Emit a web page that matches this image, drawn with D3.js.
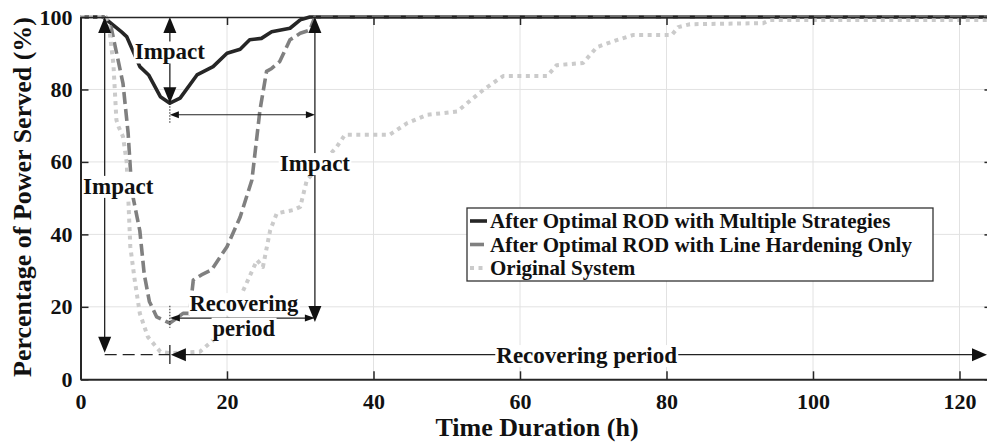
<!DOCTYPE html>
<html><head><meta charset="utf-8">
<script src="https://cdn.jsdelivr.net/npm/d3@7"></script>
<style>
body{margin:0;background:#fff}
svg{display:block}
text{font-family:"Liberation Serif","Times New Roman",serif;font-weight:bold;fill:#111}
</style>
</head><body>
<svg id="c" width="987" height="442"></svg>
<script>
// ---------- data ----------
const xTicks = [0, 20, 40, 60, 80, 100, 120];
const yTicks = [0, 20, 40, 60, 80, 100];

const seriesNames = [
  "After Optimal ROD with Multiple Strategies",
  "After Optimal ROD with Line Hardening Only",
  "Original System"
];

const multiT = [0, 3.1, 5.6, 6.3, 8.1, 9.3, 10.9, 12.2, 13.6, 15.9, 18.1, 20, 21.8, 23.1, 24.7, 26.1, 28.6, 30, 31.3, 124.5];
const multiV = [100, 100, 95.9, 94.6, 86.3, 84, 78, 76.2, 77.6, 84, 86.3, 90, 91.1, 93.7, 94.1, 95.9, 96.9, 99.2, 100, 100];

const hardT = [0, 3.2, 4.2, 5.8, 6.5, 7.0, 8.1, 8.7, 9.4, 10.4, 12.2, 14, 14.9, 15.4, 16.5, 17.9, 20, 21.8, 23.4, 24.5, 25.4, 26.1, 27.2, 28.6, 30, 31.3, 32, 124.5];
const hardV = [100, 100, 97, 81.7, 68, 52, 41, 29, 21.5, 17.2, 15.5, 18.2, 18.2, 27.4, 28.8, 30.2, 36.6, 44.8, 55, 74.3, 85, 85.8, 87.7, 93.7, 95.5, 96.4, 100, 100];

const origT = [0, 3.5, 4, 4.5, 4.9, 5.2, 5.8, 6.3, 6.5, 6.8, 7.4, 8.1, 9.2, 10.9, 12.2, 16.3, 18.1, 20, 21.8, 24.1, 24.9, 25.9, 26.8, 29, 30, 30.9, 35, 36.1, 42.2, 44.6, 47.3, 51.4, 55, 57.7, 63.7, 65, 68.6, 70.5, 73.2, 75.4, 80.7, 81.6, 83.2, 93.2, 94.1, 124.5];
const origV = [100, 100, 95.6, 86.8, 71.6, 69.7, 67, 60, 51.3, 36.6, 27.4, 18.2, 11.7, 7.6, 7.2, 7.6, 10.8, 16.3, 22.7, 32.9, 31, 41.2, 45.8, 46.7, 47.6, 55, 64.2, 67.5, 67.5, 70.7, 73, 73.9, 79.9, 83.7, 83.7, 86.7, 87.3, 91.7, 93.6, 95, 95, 97.2, 98, 98.3, 99.2, 99.2];

// ---------- annotation config (data coordinates) ----------
const impactArrows = [
  {x: 12.2, yTop: 100, yBot: 76.2},
  {x: 32.0, yTop: 100, yBot: 15.8},
  {x: 3.3,  yTop: 100, yBot: 7.3}
];
const labels = [
  {t: "Impact", x: 12.2, y: 90.5, s: 23},
  {t: "Impact", x: 32.0, y: 59.7, s: 23},
  {t: "Impact", x: 5.15, y: 53.4, s: 23},
  {t: "Recovering", x: 22.3, y: 21.0, s: 22.5},
  {t: "period", x: 22.3, y: 14.2, s: 22.5},
  {t: "Recovering period", x: 69.1, y: 6.7, s: 23}
];

// ---------- scales ----------
const svg = d3.select("#c");
const X0 = 80.5, PX = 7.325;
const xMax = 124.5;
const x = d3.scaleLinear().domain([0, xMax]).range([X0, X0 + xMax * PX]);
const y = d3.scaleLinear().domain([0, 100]).range([379.3, 17]);

// ---------- grid ----------
const grid = svg.append("g").attr("stroke", "#e2e2e2").attr("stroke-width", 1);
grid.selectAll("line.gx").data(xTicks.filter(d => d > 0)).join("line")
  .attr("x1", d => x(d)).attr("x2", d => x(d)).attr("y1", y(0)).attr("y2", y(100));
grid.selectAll("line.gy").data(yTicks.filter(d => d > 0 && d < 100)).join("line")
  .attr("class", "gy")
  .attr("x1", x(0)).attr("x2", x(xMax)).attr("y1", d => y(d)).attr("y2", d => y(d));

// ---------- series ----------
const line = d3.line().x(d => x(d[0])).y(d => y(d[1]));
const zip = (a, b) => a.map((t, i) => [t, b[i]]);
const curves = svg.append("g").attr("fill", "none").attr("stroke-linejoin", "round");
curves.append("path").datum(zip(multiT, multiV)).attr("d", line)
  .attr("stroke", "#262626").attr("stroke-width", 3.6);
curves.append("path").datum(zip(hardT, hardV)).attr("d", line)
  .attr("stroke", "#808080").attr("stroke-width", 3.6).attr("stroke-dasharray", "12,5");
curves.append("path").datum(zip(origT, origV)).attr("d", line)
  .attr("stroke", "#cbcbcb").attr("stroke-width", 4).attr("stroke-dasharray", "4,4.5");

// ---------- annotations ----------
const ann = svg.append("g");
function head(tx, ty, dx, dy, len, wid) {
  const bx = tx - dx * len, by = ty - dy * len, nx = -dy, ny = dx;
  return [[tx, ty], [bx + nx * wid / 2, by + ny * wid / 2], [bx - nx * wid / 2, by - ny * wid / 2]];
}
function drawHead(pts) {
  ann.append("polygon").attr("points", pts.map(p => p.join(",")).join(" ")).attr("fill", "#111");
}
function seg(x1, y1, x2, y2, w, dash) {
  const l = ann.append("line").attr("x1", x1).attr("y1", y1).attr("x2", x2).attr("y2", y2)
    .attr("stroke", "#222").attr("stroke-width", w);
  if (dash) l.attr("stroke-dasharray", dash);
}
impactArrows.forEach(a => {
  const px = x(a.x), pt = y(a.yTop), pb = y(a.yBot);
  seg(px, pt + 8, px, pb - 8, 1.3);
  drawHead(head(px, pt, 0, -1, 16, 13));
  drawHead(head(px, pb, 0, 1, 16, 13));
});
{
  const yy = y(73), xa = x(12.2), xb = x(32.0);
  seg(xa + 4, yy, xb - 4, yy, 1.1);
  drawHead(head(xa, yy, -1, 0, 9, 7));
  drawHead(head(xb, yy, 1, 0, 9, 7));
  seg(xa, y(76.2), xa, y(70.6), 1, "1.5,1.5");
}
{
  const yy = y(16.9), xa = x(12.2), xb = x(32.0);
  seg(xa + 4, yy, xb - 4, yy, 1.3);
  drawHead(head(xa, yy, -1, 0, 10, 7));
  drawHead(head(xb, yy, 1, 0, 10, 7));
  seg(xa, y(20.3), xa, y(14.2), 1, "1.5,1.5");
}
{
  const yy = y(6.8), xa = x(12.2), xe = 987;
  seg(x(3.3), yy, xa, yy, 1.1, "12,6");
  seg(xa, y(9.5), xa, y(4.2), 1.3);
  seg(xa + 8, yy, xe - 8, yy, 1.3);
  drawHead(head(xa + 1, yy, -1, 0, 15, 13));
  drawHead(head(xe, yy, 1, 0, 15, 13));
}
labels.forEach(l => {
  const g = ann.append("g");
  const t = g.append("text").attr("x", x(l.x)).attr("y", y(l.y)).attr("dy", "0.35em")
    .attr("text-anchor", "middle").attr("font-size", l.s).text(l.t);
  const b = t.node().getBBox();
  g.insert("rect", "text").attr("x", b.x - 1).attr("y", b.y + 2).attr("width", b.width + 2)
    .attr("height", b.height - 3).attr("fill", "#fff");
});

// ---------- axes ----------
function styleAxis(g) {
  g.attr("font-size", 22).attr("color", "#262626");
  g.select(".domain").attr("stroke-width", 2);
  g.selectAll(".tick line").attr("stroke-width", 1.5);
}
svg.append("g").attr("transform", `translate(0,${y(0)})`)
  .call(d3.axisBottom(x).tickValues(xTicks).tickSize(-8).tickSizeOuter(0).tickPadding(14))
  .call(styleAxis);
svg.append("g").attr("transform", `translate(${x(0)},0)`)
  .call(d3.axisLeft(y).tickValues(yTicks).tickSize(-8).tickSizeOuter(0).tickPadding(8))
  .call(styleAxis);
svg.append("g").attr("transform", `translate(0,${y(100)})`)
  .call(d3.axisTop(x).tickValues(xTicks).tickSize(-8).tickSizeOuter(0).tickFormat(""))
  .call(styleAxis).select(".domain").attr("stroke-width", 1.5);
svg.append("g").attr("transform", `translate(${x(xMax)},0)`)
  .call(d3.axisRight(y).tickValues(yTicks).tickSize(-8).tickSizeOuter(0).tickFormat(""))
  .call(styleAxis);

svg.append("text").attr("x", 537).attr("y", 436).attr("text-anchor", "middle")
  .attr("font-size", 26).text("Time Duration (h)");
svg.append("text").attr("transform", "translate(31,197) rotate(-90)").attr("text-anchor", "middle")
  .attr("font-size", 26).text("Percentage of Power Served (%)");

// ---------- legend ----------
const lg = svg.append("g");
lg.append("rect").attr("x", 467).attr("y", 208).attr("width", 466).attr("height", 73)
  .attr("fill", "#fff").attr("stroke", "#333").attr("stroke-width", 1.3);
const lstyles = [
  {stroke: "#262626", dash: null, w: 3.6},
  {stroke: "#808080", dash: "14,5", w: 3.6},
  {stroke: "#cbcbcb", dash: "4,4.5", w: 4}
];
const rowY = [221, 244.5, 268];
seriesNames.forEach((n, i) => {
  const s = lstyles[i];
  const l = lg.append("line").attr("x1", 470).attr("x2", 487).attr("y1", rowY[i]).attr("y2", rowY[i])
    .attr("stroke", s.stroke).attr("stroke-width", s.w);
  if (s.dash) l.attr("stroke-dasharray", s.dash);
  lg.append("text").attr("x", 490).attr("y", rowY[i]).attr("dy", "0.35em")
    .attr("font-size", 21).text(n);
});
</script>
</body></html>
